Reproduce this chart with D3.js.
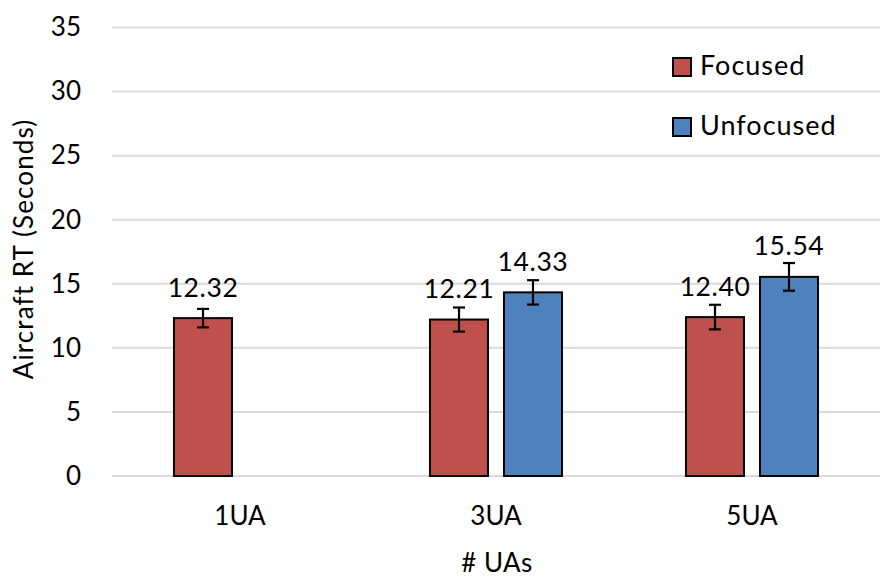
<!DOCTYPE html>
<html>
<head>
<meta charset="utf-8">
<script src="https://cdn.jsdelivr.net/npm/d3@7"></script>
<style>
  html, body { margin: 0; padding: 0; background: #fff; }
  text { font-family: Lato, "Open Sans", sans-serif; fill: #000; }
</style>
</head>
<body>
<svg id="chart" width="885" height="584"></svg>
<script>
const categories = ["1UA", "3UA", "5UA"];
const seriesNames = ["Focused", "Unfocused"];
const focusedValues = [12.32, 12.21, 12.40];
const unfocusedValues = [null, 14.33, 15.54];
const focusedErrors = [0.72, 0.94, 0.96];
const unfocusedErrors = [null, 0.95, 1.08];
const yTicks = [0, 5, 10, 15, 20, 25, 30, 35];
const colors = ["#C0504D", "#4F81BD"];

const svg = d3.select("#chart");
const plotLeft = 112, plotRight = 880, plotTop = 27.5, plotBottom = 476;

const x0 = d3.scaleBand().domain(categories).range([plotLeft, plotRight]).paddingInner(0).paddingOuter(0);
const x1 = d3.scaleBand().domain(seriesNames).range([0, x0.bandwidth()]).paddingInner(0.216).paddingOuter(0.838);
const y = d3.scaleLinear().domain([0, 35]).range([plotBottom, plotTop]);

// gridlines
svg.append("g").selectAll("line").data(yTicks).join("line")
  .attr("x1", plotLeft).attr("x2", plotRight)
  .attr("y1", d => y(d)).attr("y2", d => y(d))
  .attr("stroke", "#D9D9D9").attr("stroke-width", 2);

// y axis labels
const yAxis = d3.axisLeft(y).tickValues(yTicks).tickSize(0).tickPadding(0);
const yg = svg.append("g").attr("transform", `translate(81,0)`).call(yAxis);
yg.select(".domain").remove();
yg.selectAll("text").attr("font-size", 26).attr("font-family", "Lato").attr("fill", "#000")
  .attr("dy", "0.32em");

// x axis labels
const xAxis = d3.axisBottom(x0).tickSize(0).tickPadding(0);
const xg = svg.append("g").attr("transform", `translate(0,525)`).call(xAxis);
xg.select(".domain").remove();
xg.selectAll("text").attr("font-size", 26).attr("font-family", "Lato").attr("fill", "#000").attr("dy", 0);

// data rows
const rows = [];
categories.forEach((c, i) => {
  [focusedValues, unfocusedValues].forEach((vals, s) => {
    const errs = s === 0 ? focusedErrors : unfocusedErrors;
    if (vals[i] != null) rows.push({cat: c, series: seriesNames[s], s, v: vals[i], e: errs[i]});
  });
});

const bars = svg.append("g");
bars.selectAll("rect").data(rows).join("rect")
  .attr("x", d => x0(d.cat) + x1(d.series))
  .attr("width", x1.bandwidth())
  .attr("y", d => y(d.v))
  .attr("height", d => y(0) - y(d.v))
  .attr("fill", d => colors[d.s])
  .attr("stroke", "#000").attr("stroke-width", 2);

// error bars
const eb = svg.append("g").attr("stroke", "#000").attr("stroke-width", 2.2);
rows.forEach(d => {
  const cx = x0(d.cat) + x1(d.series) + x1.bandwidth() / 2;
  eb.append("line").attr("x1", cx).attr("x2", cx).attr("y1", y(d.v + d.e)).attr("y2", y(d.v - d.e));
  eb.append("line").attr("x1", cx - 6).attr("x2", cx + 6).attr("y1", y(d.v + d.e)).attr("y2", y(d.v + d.e));
  eb.append("line").attr("x1", cx - 6).attr("x2", cx + 6).attr("y1", y(d.v - d.e)).attr("y2", y(d.v - d.e));
});

// data labels
svg.append("g").selectAll("text").data(rows).join("text")
  .attr("x", d => x0(d.cat) + x1(d.series) + x1.bandwidth() / 2)
  .attr("y", d => y(d.v) - 21.5)
  .attr("text-anchor", "middle").attr("font-size", 26.5).attr("letter-spacing", 0.6)
  .text(d => d.v.toFixed(2));

// axis titles
svg.append("text").attr("x", (plotLeft + plotRight) / 2 + 1).attr("y", 572)
  .attr("text-anchor", "middle").attr("font-size", 26).attr("letter-spacing", 0.4).text("# UAs");
svg.append("text").attr("transform", "translate(33,249) rotate(-90)")
  .attr("text-anchor", "middle").attr("font-size", 26).attr("letter-spacing", 1.1).text("Aircraft RT (Seconds)");

// legend
const legend = svg.append("g");
seriesNames.forEach((n, i) => {
  const ly = 58 + i * 60;
  legend.append("rect").attr("x", 673).attr("y", ly).attr("width", 18).attr("height", 18)
    .attr("fill", colors[i]).attr("stroke", "#000").attr("stroke-width", 2);
  legend.append("text").attr("x", 700).attr("y", ly + 17).attr("font-size", 27).attr("letter-spacing", 1)
    .text(n);
});
</script>
</body>
</html>
